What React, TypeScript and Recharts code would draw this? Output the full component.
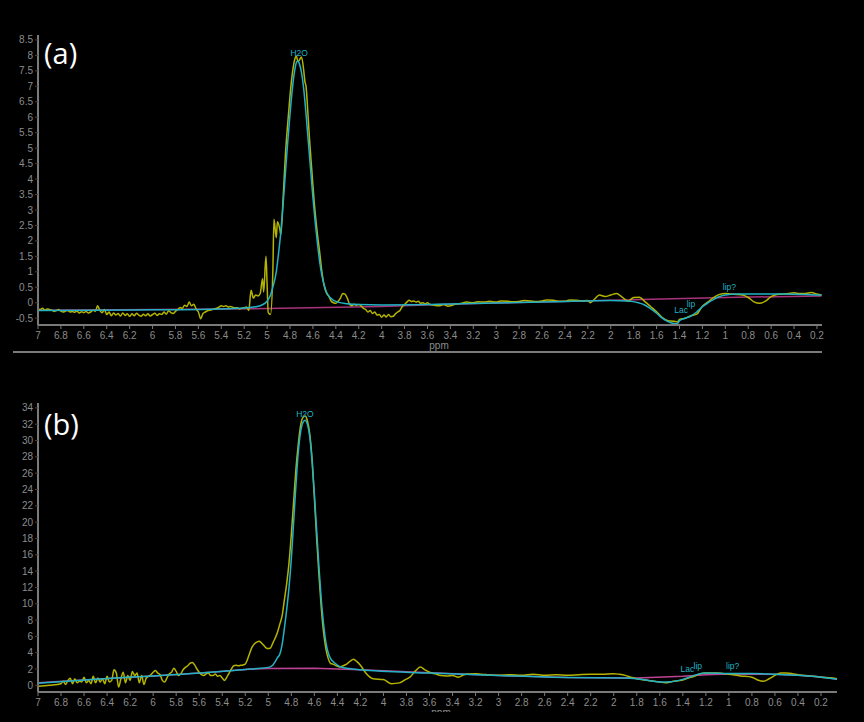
import React from 'react';
import { LineChart, Line, XAxis, YAxis, ReferenceDot } from 'recharts';

// ---------- Panel (a) ----------
const rawPpmA = [
  7.0, 6.98, 6.96, 6.94, 6.92, 6.9, 6.88, 6.86, 6.84, 6.82, 6.8, 6.78, 6.76, 6.74, 6.72, 6.7, 6.68, 6.66, 6.64, 6.62,
  6.6, 6.58, 6.56, 6.54, 6.52, 6.5, 6.48, 6.46, 6.44, 6.42, 6.4, 6.38, 6.36, 6.34, 6.32, 6.3, 6.28, 6.26, 6.24, 6.22,
  6.2, 6.18, 6.16, 6.14, 6.12, 6.1, 6.08, 6.06, 6.04, 6.02, 6.0, 5.98, 5.96, 5.94, 5.92, 5.9, 5.88, 5.86, 5.84, 5.82,
  5.8, 5.78, 5.76, 5.74, 5.72, 5.7, 5.68, 5.66, 5.64, 5.62, 5.6, 5.58, 5.56, 5.54, 5.52, 5.5, 5.48, 5.46, 5.44, 5.42,
  5.4, 5.38, 5.36, 5.34, 5.32, 5.3, 5.28, 5.26, 5.24, 5.22, 5.2, 5.18, 5.16, 5.14, 5.12, 5.1, 5.08, 5.06, 5.04, 5.03,
  5.01, 5.0, 4.99, 4.97, 4.95, 4.94, 4.92, 4.91, 4.89, 4.88, 4.86, 4.84, 4.82, 4.8, 4.78, 4.76, 4.745, 4.73, 4.71, 4.7,
  4.68, 4.67, 4.66, 4.65, 4.63, 4.61, 4.585, 4.56, 4.54, 4.52, 4.5, 4.48, 4.46, 4.44, 4.42, 4.4, 4.38, 4.36, 4.34, 4.32,
  4.3, 4.28, 4.26, 4.24, 4.22, 4.2, 4.18, 4.16, 4.14, 4.12, 4.1, 4.08, 4.06, 4.04, 4.02, 4.0, 3.98, 3.96, 3.94, 3.92,
  3.9, 3.88, 3.86, 3.84, 3.82, 3.8, 3.78, 3.76, 3.74, 3.72, 3.7, 3.68, 3.66, 3.64, 3.62, 3.6, 3.58, 3.54, 3.5, 3.46,
  3.42, 3.4, 3.36, 3.3, 3.26, 3.2, 3.16, 3.1, 3.06, 3.0, 2.96, 2.9, 2.86, 2.8, 2.76, 2.7, 2.66, 2.6, 2.56, 2.5,
  2.46, 2.4, 2.36, 2.3, 2.26, 2.2, 2.18, 2.14, 2.1, 2.05, 2.0, 1.95, 1.9, 1.85, 1.8, 1.75, 1.7, 1.65, 1.6, 1.55,
  1.5, 1.45, 1.42, 1.4, 1.35, 1.3, 1.25, 1.2, 1.15, 1.1, 1.05, 1.0, 0.95, 0.9, 0.85, 0.8, 0.75, 0.7, 0.65, 0.6,
  0.55, 0.5, 0.45, 0.4, 0.35, 0.3, 0.25, 0.2, 0.16,
];
const rawValA = [
  -0.2, -0.22, -0.18, -0.24, -0.2, -0.22, -0.24, -0.28, -0.25, -0.22, -0.27, -0.3, -0.27, -0.25, -0.3, -0.28, -0.31, -0.27, -0.33, -0.29,
  -0.32, -0.28, -0.33, -0.3, -0.24, -0.28, -0.1, -0.25, -0.32, -0.22, -0.38, -0.3, -0.42, -0.33, -0.4, -0.35, -0.43, -0.33, -0.41, -0.36,
  -0.44, -0.36, -0.42, -0.34, -0.4, -0.44, -0.37, -0.42, -0.36, -0.43, -0.38, -0.34, -0.41, -0.36, -0.38, -0.3, -0.37, -0.26, -0.32, -0.35,
  -0.28, -0.22, -0.15, -0.18, -0.08, -0.12, 0.02, -0.1, -0.05, -0.2, -0.3, -0.52, -0.35, -0.3, -0.26, -0.24, -0.22, -0.2, -0.18, -0.14,
  -0.1, -0.12, -0.1, -0.14, -0.12, -0.15, -0.17, -0.16, -0.2, -0.18, -0.16, -0.14, -0.25, 0.4, 0.15, 0.25, 0.22, 0.3, 0.78, 0.35,
  1.5, 0.6, -0.32, -0.38, 1.0, 2.7, 2.1, 2.62, 2.4, 2.2, 3.4, 4.8, 5.8, 6.7, 7.4, 7.85, 7.98, 7.8, 7.9, 7.95,
  7.5, 7.15, 7.0, 6.5, 5.3, 4.3, 3.1, 2.2, 1.6, 0.95, 0.52, 0.3, 0.2, 0.05, 0.0, -0.02, 0.05, 0.15, 0.3, 0.28,
  0.15, -0.05, -0.1, -0.05, -0.08, -0.06, -0.1, -0.18, -0.22, -0.3, -0.25, -0.35, -0.3, -0.4, -0.38, -0.47, -0.4, -0.46, -0.38, -0.45,
  -0.44, -0.36, -0.3, -0.25, -0.12, -0.06, 0.02, 0.08, 0.04, 0.06, 0.02, 0.05, -0.02, 0.0, -0.04, 0.0, -0.05, -0.08, -0.1, -0.06,
  -0.11, -0.1, -0.05, -0.02, 0.02, 0.0, 0.03, 0.02, 0.05, 0.02, 0.06, 0.05, 0.03, 0.04, 0.07, 0.06, 0.04, 0.06, 0.09, 0.08,
  0.05, 0.05, 0.09, 0.08, 0.06, 0.07, 0.0, 0.12, 0.25, 0.2, 0.25, 0.3, 0.18, 0.05, 0.17, 0.18, 0.03, -0.13, -0.29, -0.48,
  -0.58, -0.6, -0.62, -0.54, -0.5, -0.42, -0.37, -0.11, 0.03, 0.17, 0.27, 0.3, 0.28, 0.27, 0.25, 0.17, 0.03, -0.02, 0.05, 0.2,
  0.27, 0.28, 0.3, 0.32, 0.3, 0.3, 0.33, 0.28, 0.25,
];
const fitPpmA = [
  7.0, 6.5, 6.0, 5.5, 5.3, 5.2, 5.1, 5.05, 5.0, 4.97, 4.95, 4.92, 4.9, 4.88, 4.86, 4.84, 4.82, 4.8, 4.78, 4.76,
  4.74, 4.73, 4.72, 4.7, 4.68, 4.66, 4.64, 4.62, 4.6, 4.58, 4.56, 4.54, 4.52, 4.5, 4.48, 4.45, 4.42, 4.38, 4.3, 4.2,
  4.0, 3.5, 3.0, 2.5, 2.0, 1.85, 1.75, 1.7, 1.65, 1.6, 1.55, 1.5, 1.45, 1.42, 1.4, 1.35, 1.3, 1.25, 1.2, 1.15,
  1.1, 1.05, 1.0, 0.9, 0.7, 0.5, 0.3, 0.16,
];
const fitValA = [
  -0.25, -0.24, -0.23, -0.21, -0.19, -0.17, -0.13, -0.08, 0.05, 0.25, 0.5, 1.0, 1.6, 2.3, 3.2, 4.2, 5.2, 6.1, 6.9, 7.5,
  7.8, 7.82, 7.75, 7.45, 6.9, 6.1, 5.2, 4.3, 3.4, 2.6, 1.9, 1.3, 0.85, 0.55, 0.33, 0.17, 0.08, 0.02, -0.03, -0.06,
  -0.07, -0.05, -0.01, 0.03, 0.07, 0.06, -0.01, -0.08, -0.2, -0.34, -0.5, -0.61, -0.67, -0.68, -0.58, -0.5, -0.43, -0.3, -0.13, 0.0,
  0.11, 0.2, 0.25, 0.28, 0.28, 0.28, 0.27, 0.25,
];
const basePpmA = [7.0, 6.0, 5.0, 4.0, 3.5, 3.0, 2.0, 1.0, 0.16];
const baseValA = [-0.24, -0.22, -0.19, -0.12, -0.06, -0.01, 0.08, 0.17, 0.22];

const xTicksA = [7, 6.8, 6.6, 6.4, 6.2, 6, 5.8, 5.6, 5.4, 5.2, 5, 4.8, 4.6, 4.4, 4.2, 4, 3.8, 3.6, 3.4, 3.2, 3, 2.8, 2.6, 2.4, 2.2, 2, 1.8, 1.6, 1.4, 1.2, 1, 0.8, 0.6, 0.4, 0.2];
const yTicksA = [-0.5, 0, 0.5, 1, 1.5, 2, 2.5, 3, 3.5, 4, 4.5, 5, 5.5, 6, 6.5, 7, 7.5, 8, 8.5];
const annotLabelsA = ['H2O', 'Lac', 'lip', 'lip?'];
const annotPpmA = [4.72, 1.385, 1.3, 0.964];
const annotValA = [8.08, -0.25, -0.05, 0.52];

// ---------- Panel (b) ----------
const rawPpmB = [
  7.0, 6.9, 6.8, 6.78, 6.76, 6.74, 6.72, 6.7, 6.68, 6.66, 6.64, 6.62, 6.6, 6.58, 6.56, 6.54, 6.52, 6.5, 6.48, 6.46,
  6.44, 6.42, 6.4, 6.38, 6.36, 6.34, 6.32, 6.3, 6.28, 6.26, 6.24, 6.22, 6.2, 6.18, 6.16, 6.14, 6.12, 6.1, 6.08, 6.06,
  6.04, 6.02, 6.0, 5.98, 5.96, 5.94, 5.92, 5.9, 5.88, 5.86, 5.84, 5.82, 5.8, 5.78, 5.76, 5.74, 5.72, 5.7, 5.68, 5.66,
  5.64, 5.62, 5.6, 5.58, 5.56, 5.54, 5.52, 5.5, 5.48, 5.46, 5.44, 5.42, 5.4, 5.38, 5.36, 5.34, 5.32, 5.3, 5.28, 5.26,
  5.24, 5.22, 5.2, 5.18, 5.16, 5.14, 5.12, 5.1, 5.08, 5.06, 5.04, 5.02, 5.0, 4.98, 4.96, 4.94, 4.92, 4.9, 4.88, 4.86,
  4.84, 4.82, 4.8, 4.78, 4.76, 4.74, 4.72, 4.7, 4.68, 4.66, 4.64, 4.62, 4.6, 4.58, 4.56, 4.54, 4.52, 4.5, 4.48, 4.46,
  4.44, 4.41, 4.38, 4.35, 4.32, 4.29, 4.26, 4.23, 4.2, 4.15, 4.09, 4.0, 3.93, 3.86, 3.81, 3.77, 3.72, 3.68, 3.64, 3.6,
  3.55, 3.5, 3.45, 3.4, 3.35, 3.3, 3.25, 3.2, 3.15, 3.1, 3.0, 2.9, 2.8, 2.7, 2.6, 2.5, 2.4, 2.3, 2.2, 2.1,
  2.0, 1.95, 1.9, 1.85, 1.8, 1.7, 1.6, 1.55, 1.5, 1.4, 1.35, 1.3, 1.25, 1.2, 1.1, 1.0, 0.9, 0.8, 0.75, 0.7,
  0.65, 0.6, 0.55, 0.5, 0.45, 0.4, 0.3, 0.2, 0.1, 0.06,
];
const rawValB = [
  -0.12, 0.0, 0.2, 0.5, 0.1, 0.6, 0.85, 0.2, 0.8, 0.3, 0.5, 0.4, 1.0, 0.3, 0.6, 0.2, 1.1, 0.3, 0.9, 0.4,
  0.8, 0.2, 1.1, 0.4, 0.6, 1.9, 1.5, -0.2, 0.8, 1.6, 0.3, 1.2, 0.6, 1.7, 1.2, 1.5, 0.3, 1.2, 0.1, 0.9,
  1.1, 1.3, 1.6, 1.8, 1.5, 1.3, 0.6, 0.4, 0.9, 1.4, 1.6, 2.1, 1.7, 1.2, 1.4, 1.9, 2.2, 2.4, 2.7, 2.8,
  2.5, 2.0, 1.6, 1.3, 1.2, 1.4, 1.5, 1.2, 1.2, 1.4, 1.1, 1.2, 0.9, 0.6, 1.0, 1.5, 2.0, 2.4, 2.45, 2.4,
  2.45, 2.5, 2.6, 3.2, 4.0, 4.7, 5.1, 5.3, 5.4, 5.2, 4.9, 4.6, 4.5, 4.6, 5.2, 5.8, 6.5, 7.5, 8.5, 10.5,
  12.5, 15.0, 18.5, 22.5, 26.5, 29.5, 31.8, 32.8, 33.0, 32.4, 30.8, 27.8, 23.0, 18.0, 13.5, 9.5, 6.5, 4.5, 3.3, 2.7,
  2.6, 2.4, 2.25, 2.4, 2.6, 2.95, 3.2, 2.9, 2.45, 1.45, 0.8, 0.7, 0.2, 0.3, 0.7, 1.0, 1.8, 2.25, 1.9, 1.6,
  1.4, 1.2, 1.15, 1.2, 1.0, 1.3, 1.4, 1.43, 1.35, 1.3, 1.22, 1.3, 1.22, 1.35, 1.22, 1.3, 1.22, 1.3, 1.35, 1.35,
  1.43, 1.35, 1.22, 1.0, 0.8, 0.6, 0.4, 0.3, 0.45, 0.65, 0.9, 1.1, 1.43, 1.5, 1.5, 1.35, 1.15, 1.0, 0.65, 0.5,
  0.8, 1.22, 1.5, 1.5, 1.43, 1.3, 1.15, 1.0, 0.9, 0.8,
];
const fitPpmB = [
  7.0, 6.5, 6.0, 5.5, 5.2, 5.1, 5.0, 4.96, 4.94, 4.92, 4.9, 4.88, 4.86, 4.84, 4.82, 4.8, 4.78, 4.76, 4.74, 4.72,
  4.7, 4.68, 4.66, 4.64, 4.62, 4.6, 4.58, 4.56, 4.54, 4.52, 4.5, 4.48, 4.46, 4.42, 4.38, 4.3, 4.2, 3.6, 3.0, 2.4,
  1.9, 1.8, 1.7, 1.6, 1.5, 1.4, 1.3, 1.25, 1.2, 1.0, 0.8, 0.6, 0.4, 0.2, 0.06,
];
const fitValB = [
  0.25, 0.75, 1.15, 1.6, 1.95, 2.05, 2.2, 2.5, 2.9, 3.4, 3.8, 5.0, 7.0, 9.3, 12.0, 15.5, 20.0, 24.5, 28.5, 31.0,
  32.2, 32.5, 32.0, 30.5, 27.5, 23.5, 19.0, 14.5, 10.5, 7.5, 5.3, 4.0, 3.3, 2.7, 2.3, 2.05, 1.9, 1.5, 1.2, 0.95,
  0.9, 0.8, 0.6, 0.4, 0.45, 0.73, 1.22, 1.43, 1.5, 1.45, 1.45, 1.35, 1.22, 1.0, 0.75,
];
const basePpmB = [7.0, 6.5, 6.0, 5.5, 5.2, 5.0, 4.6, 4.2, 3.6, 3.0, 2.4, 1.8, 1.4, 1.2, 1.0, 0.6, 0.4, 0.2, 0.06];
const baseValB = [0.3, 0.75, 1.15, 1.6, 1.95, 2.05, 2.1, 1.9, 1.55, 1.2, 0.95, 0.9, 1.1, 1.3, 1.4, 1.35, 1.22, 1.02, 0.75];

const xTicksB = xTicksA;
const yTicksB = [0, 2, 4, 6, 8, 10, 12, 14, 16, 18, 20, 22, 24, 26, 28, 30, 32, 34];
const annotLabelsB = ['H2O', 'Lac', 'lip', 'lip?'];
const annotPpmB = [4.682, 1.36, 1.27, 0.967];
const annotValB = [33.3, 1.96, 2.4, 2.33];

// ---------- styling ----------
const YELLOW = '#b4b400';
const CYAN = '#22b2c6';
const MAGENTA = '#a8337a';
const MAGENTA_B = '#bd4494';
const AXIS = '#7a7a7a';
const TICK_TEXT = '#8c8c8c';
const FONT = '"Liberation Sans", Arial, sans-serif';

const zip = (xs: number[], ys: number[]) => xs.map((x, i) => ({ x, y: ys[i] }));

const tickStyle = { fill: TICK_TEXT, fontSize: 10, fontFamily: FONT };

const fmt = (v: number) => String(Math.round(v * 10) / 10);

function Panel(props: {
  rawX: number[]; rawY: number[]; fitX: number[]; fitY: number[]; baseX: number[]; baseY: number[];
  xDomain: [number, number]; yDomain: [number, number]; yTicks: number[]; xTicks: number[];
  labels: string[]; lx: number[]; ly: number[]; margin: any; height: number; baseColor: string;
}) {
  const raw = zip(props.rawX, props.rawY);
  const fit = zip(props.fitX, props.fitY);
  const base = zip(props.baseX, props.baseY);
  return (
    <LineChart width={864} height={props.height} margin={props.margin}>
      <XAxis
        type="number"
        dataKey="x"
        domain={props.xDomain}
        reversed
        allowDataOverflow
        ticks={props.xTicks}
        interval={0}
        tickFormatter={fmt}
        stroke={AXIS}
        strokeWidth={2}
        tick={tickStyle}
        tickSize={4}
        tickMargin={3}
        tickLine={{ stroke: AXIS, strokeWidth: 1 }}
        height={30}
      />
      <YAxis
        type="number"
        dataKey="y"
        domain={props.yDomain}
        allowDataOverflow
        ticks={props.yTicks}
        interval={0}
        stroke={AXIS}
        strokeWidth={2}
        tick={tickStyle}
        tickSize={3}
        tickMargin={2}
        tickLine={{ stroke: '#444', strokeWidth: 1 }}
        width={30}
      />
      <Line data={base} dataKey="y" type="linear" stroke={props.baseColor} strokeWidth={1.5} dot={false} isAnimationActive={false} />
      <Line data={raw} dataKey="y" type="monotone" stroke={YELLOW} strokeWidth={1.5} dot={false} isAnimationActive={false} />
      <Line data={fit} dataKey="y" type="monotone" stroke={CYAN} strokeWidth={1.5} dot={false} isAnimationActive={false} />
      {props.labels.map((t, i) => (
        <ReferenceDot
          key={t + i}
          x={props.lx[i]}
          y={props.ly[i]}
          r={0}
          fill="none"
          stroke="none"
          label={{ value: t, position: 'center', fill: CYAN, fontSize: 8.5, fontFamily: FONT }}
        />
      ))}
    </LineChart>
  );
}

export default function App() {
  return (
    <div style={{ position: 'absolute', left: 0, top: 0, width: 864, height: 722, background: '#000', overflow: 'hidden' }}>
      <div style={{ position: 'absolute', left: 0, top: 0 }}>
        <Panel
          rawX={rawPpmA} rawY={rawValA} fitX={fitPpmA} fitY={fitValA} baseX={basePpmA} baseY={baseValA}
          xDomain={[0.156, 7]} yDomain={[-0.72, 8.66]} yTicks={yTicksA} xTicks={xTicksA}
          labels={annotLabelsA} lx={annotPpmA} ly={annotValA}
          margin={{ top: 35, right: 42, bottom: 5, left: 8 }} height={360} baseColor={MAGENTA}
        />
      </div>
      <div style={{ position: 'absolute', left: 0, top: 370 }}>
        <Panel
          rawX={rawPpmB} rawY={rawValB} fitX={fitPpmB} fitY={fitValB} baseX={basePpmB} baseY={baseValB}
          xDomain={[0.061, 7]} yDomain={[-0.82, 34.6]} yTicks={yTicksB} xTicks={xTicksB}
          labels={annotLabelsB} lx={annotPpmB} ly={annotValB}
          margin={{ top: 33, right: 27, bottom: 0, left: 8 }} height={352} baseColor={MAGENTA_B}
        />
      </div>
      <svg width={864} height={722} style={{ position: 'absolute', left: 0, top: 0, pointerEvents: 'none' }}>
        <defs>
          <clipPath id="cutB">
            <rect x={0} y={0} width={864} height={712} />
          </clipPath>
        </defs>
        <text x={439} y={349} textAnchor="middle" fill={TICK_TEXT} fontSize={10} fontFamily={FONT}>ppm</text>
        <line x1={13} y1={352} x2={822} y2={352} stroke={AXIS} strokeWidth={2} />
        <text x={441} y={716} textAnchor="middle" fill={TICK_TEXT} fontSize={10} fontFamily={FONT} clipPath="url(#cutB)">ppm</text>
        <text x={44} y={64} fill="#ffffff" fontSize={29} fontFamily='"Open Sans", sans-serif'>(a)</text>
        <text x={44} y={435} fill="#ffffff" fontSize={29} fontFamily='"Open Sans", sans-serif'>(b)</text>
      </svg>
    </div>
  );
}
